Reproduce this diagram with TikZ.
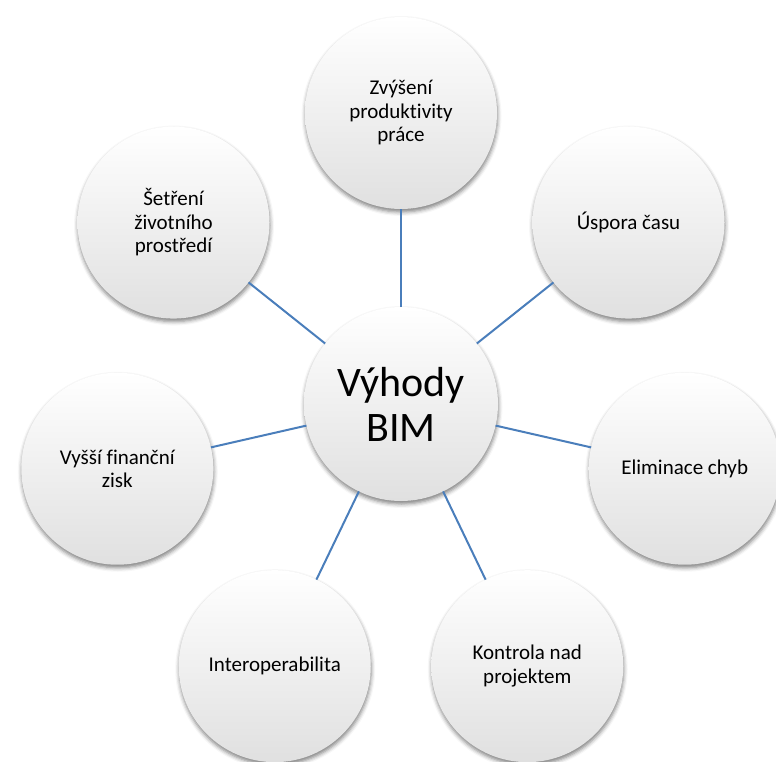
\documentclass[tikz,border=0pt]{standalone}
\usepackage{fontspec}
\setmainfont{Carlito}[Ligatures=NoCommon]
\usetikzlibrary{calc,shadows.blur}

\definecolor{spoke}{RGB}{74,126,187}
\definecolor{ballgray}{RGB}{224,224,224}

\tikzset{
  ball/.style={circle, inner sep=0pt, outer sep=0pt, align=center,
    top color=white, middle color=white, bottom color=ballgray,
    draw=none,
    blur shadow={shadow xshift=0.5pt, shadow yshift=-3pt,
                 shadow blur radius=4pt, shadow opacity=50}},
  outerball/.style={ball, minimum size=192pt,
    font=\fontsize{21}{23.5}\selectfont},
  hubball/.style={ball, minimum size=194pt,
    font=\fontsize{42}{45}\selectfont},
  spokeline/.style={draw=spoke, line width=2pt}
}

\begin{document}
\begin{tikzpicture}[x=1pt, y=1pt]
  \useasboundingbox (0,0) rectangle (776,-762);

  \coordinate (mid) at (401,-404);

  % hub
  \node[hubball] (hub) at (mid) {Výhody\\BIM};

  % seven benefits placed evenly around the hub
  \node[outerball] (b1) at ($(mid)+(90:291)$) {Zvýšení\\produktivity\\práce};
  \node[outerball] (b2) at ($(mid)+(38.571:291)$) {Úspora času};
  \node[outerball] (b3) at ($(mid)+(-12.857:291)$) {Eliminace chyb};
  \node[outerball] (b4) at ($(mid)+(-64.286:291)$) {Kontrola nad\\projektem};
  \node[outerball] (b5) at ($(mid)+(-115.714:291)$) {Interoperabilita};
  \node[outerball] (b6) at ($(mid)+(-167.143:291)$) {Vyšší finanční\\zisk};
  \node[outerball] (b7) at ($(mid)+(141.429:291)$) {Šetření\\životního\\prostředí};

  % spokes
  \foreach \b in {b1,b2,b3,b4,b5,b6,b7}
    \draw[spokeline] (hub) -- (\b);
\end{tikzpicture}
\end{document}
